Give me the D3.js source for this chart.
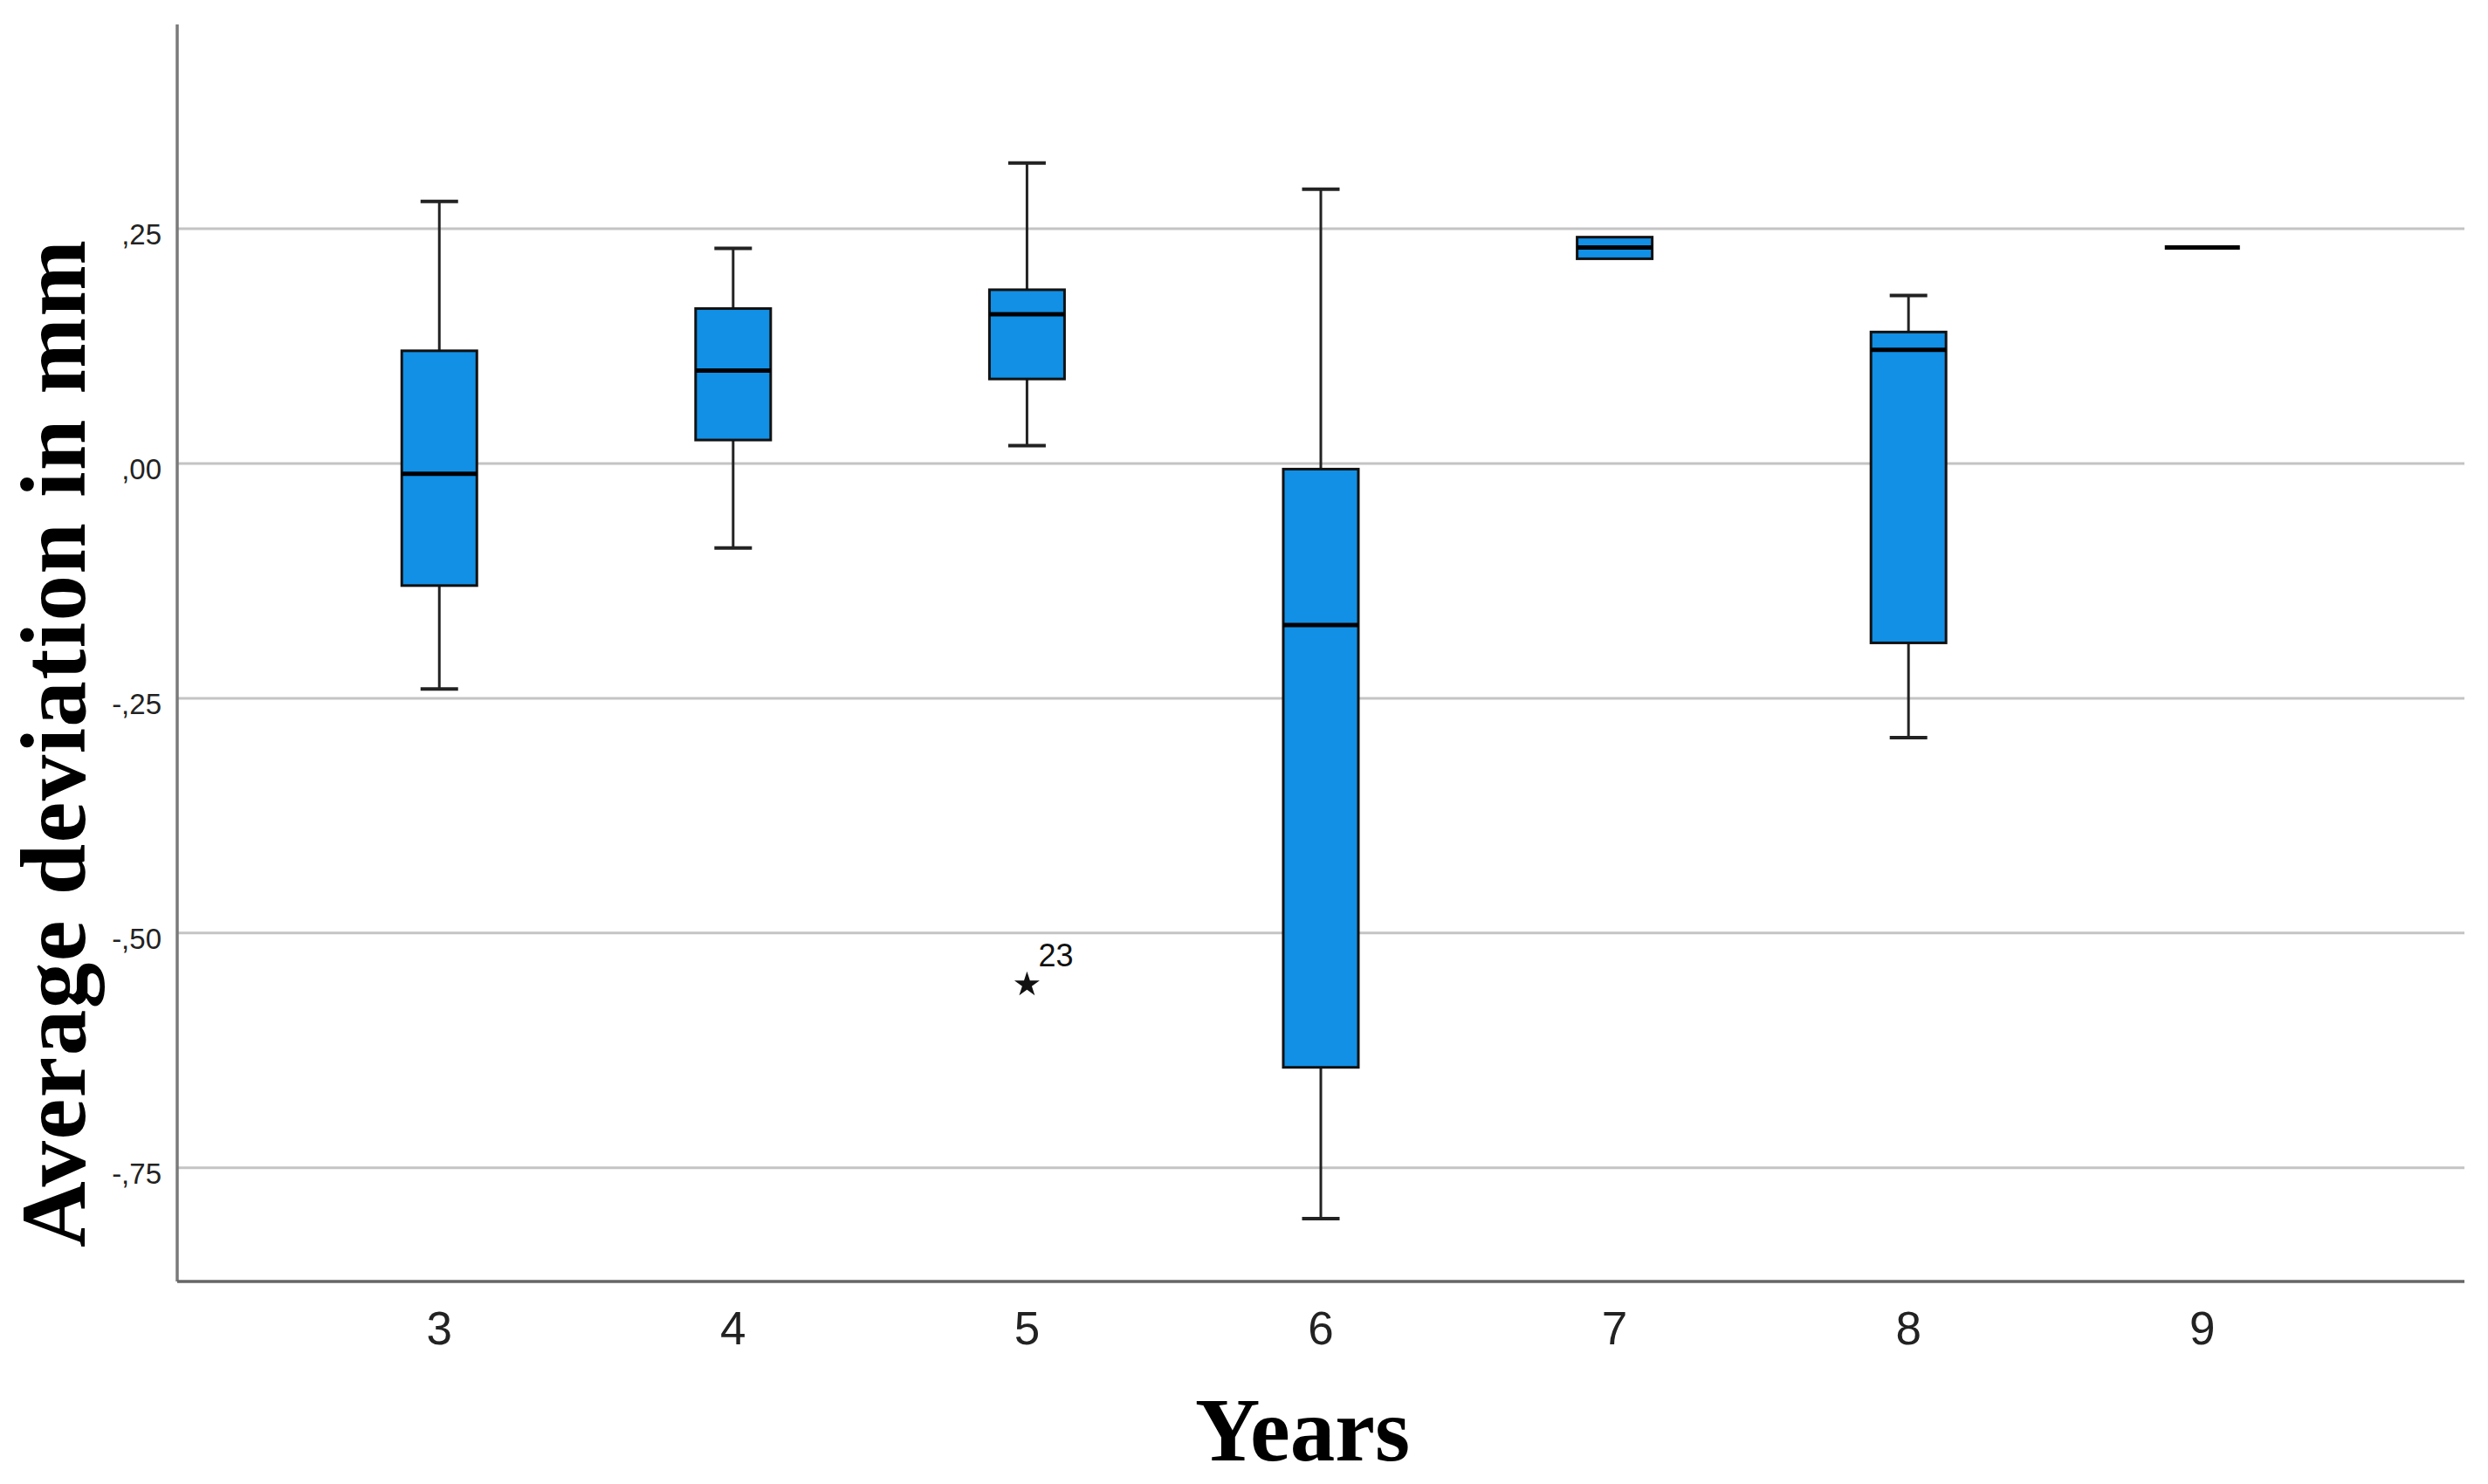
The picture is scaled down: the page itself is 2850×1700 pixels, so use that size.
<!DOCTYPE html>
<html>
<head>
<meta charset="utf-8">
<script src="https://cdn.jsdelivr.net/npm/d3@7"></script>
<style>
  body { margin: 0; background: #fff; }
</style>
</head>
<body>
<svg id="chart" width="2850" height="1700"></svg>
<script>
// values (mm)
var years    = ["3", "4", "5", "6", "7", "8", "9"];
var whiskLo  = [-0.240, -0.090, 0.019, -0.804, 0.218, -0.292, 0.230];
var q1       = [-0.130,  0.025, 0.090, -0.643, 0.218, -0.191, 0.230];
var median   = [-0.011,  0.099, 0.159, -0.172, 0.230,  0.121, 0.230];
var q3       = [ 0.120,  0.165, 0.185, -0.006, 0.241,  0.140, 0.230];
var whiskHi  = [ 0.279,  0.229, 0.320,  0.292, 0.241,  0.179, 0.230];

var outliers = [{year: "5", value: -0.553, label: "23"}];

var yTicks = [0.25, 0, -0.25, -0.5, -0.75];
var yTickLabels = [",25", ",00", "-,25", "-,50", "-,75"];

var boxes = years.map(function(y, i) {
  return {year: y, lo: whiskLo[i], q1: q1[i], med: median[i], q3: q3[i], hi: whiskHi[i]};
});

var svg = d3.select("#chart");

// plot frame (note: "top" is taken by window.top, so use other names)
var plotL = 203, plotR = 2823, plotT = 28, plotB = 1468;

var x = d3.scalePoint()
  .domain(years)
  .range([plotL, plotR])
  .padding(0.892);

var y = d3.scaleLinear()
  .domain([-0.871, 0.4675])
  .range([plotB, plotT]);

var boxW = 86, capW = 43;

// grid lines
svg.append("g")
  .selectAll("line")
  .data(yTicks)
  .enter().append("line")
  .attr("x1", plotL)
  .attr("x2", plotR)
  .attr("y1", function(d) { return y(d); })
  .attr("y2", function(d) { return y(d); })
  .attr("stroke", "#c4c4c4")
  .attr("stroke-width", 3);

// y tick labels
svg.append("g")
  .selectAll("text")
  .data(yTicks)
  .enter().append("text")
  .attr("x", 185)
  .attr("y", function(d) { return y(d) + 18; })
  .attr("text-anchor", "end")
  .attr("font-family", "Liberation Sans, Arial, sans-serif")
  .attr("font-size", 33)
  .attr("fill", "#222")
  .text(function(d, i) { return yTickLabels[i]; });

// x tick labels
svg.append("g")
  .selectAll("text")
  .data(years)
  .enter().append("text")
  .attr("x", function(d) { return x(d); })
  .attr("y", 1540)
  .attr("text-anchor", "middle")
  .attr("font-family", "Liberation Sans, Arial, sans-serif")
  .attr("font-size", 53)
  .attr("fill", "#222")
  .text(function(d) { return d; });

var g = svg.append("g")
  .selectAll("g")
  .data(boxes)
  .enter().append("g");

// whiskers (skip when they collapse into the box)
g.filter(function(d) { return d.hi > d.q3; })
  .append("line")
  .attr("x1", function(d) { return x(d.year); })
  .attr("x2", function(d) { return x(d.year); })
  .attr("y1", function(d) { return y(d.q3); })
  .attr("y2", function(d) { return y(d.hi); })
  .attr("stroke", "#222").attr("stroke-width", 3);

g.filter(function(d) { return d.hi > d.q3; })
  .append("line")
  .attr("x1", function(d) { return x(d.year) - capW / 2; })
  .attr("x2", function(d) { return x(d.year) + capW / 2; })
  .attr("y1", function(d) { return y(d.hi); })
  .attr("y2", function(d) { return y(d.hi); })
  .attr("stroke", "#222").attr("stroke-width", 4);

g.filter(function(d) { return d.lo < d.q1; })
  .append("line")
  .attr("x1", function(d) { return x(d.year); })
  .attr("x2", function(d) { return x(d.year); })
  .attr("y1", function(d) { return y(d.q1); })
  .attr("y2", function(d) { return y(d.lo); })
  .attr("stroke", "#222").attr("stroke-width", 3);

g.filter(function(d) { return d.lo < d.q1; })
  .append("line")
  .attr("x1", function(d) { return x(d.year) - capW / 2; })
  .attr("x2", function(d) { return x(d.year) + capW / 2; })
  .attr("y1", function(d) { return y(d.lo); })
  .attr("y2", function(d) { return y(d.lo); })
  .attr("stroke", "#222").attr("stroke-width", 4);

// boxes
g.append("rect")
  .attr("x", function(d) { return x(d.year) - boxW / 2; })
  .attr("width", boxW)
  .attr("y", function(d) { return y(d.q3); })
  .attr("height", function(d) { return y(d.q1) - y(d.q3); })
  .attr("fill", "#1190e6")
  .attr("stroke", "#111")
  .attr("stroke-width", 3);

// medians
g.append("line")
  .attr("x1", function(d) { return x(d.year) - boxW / 2; })
  .attr("x2", function(d) { return x(d.year) + boxW / 2; })
  .attr("y1", function(d) { return y(d.med); })
  .attr("y2", function(d) { return y(d.med); })
  .attr("stroke", "#000")
  .attr("stroke-width", 5);

// outliers (extreme values drawn as stars)
var star = d3.symbol().type(d3.symbolStar).size(260);
var o = svg.append("g")
  .selectAll("g")
  .data(outliers)
  .enter().append("g");

o.append("path")
  .attr("d", star)
  .attr("transform", function(d) { return "translate(" + x(d.year) + "," + (y(d.value) + 2) + ")"; })
  .attr("fill", "#111");

o.append("text")
  .attr("x", function(d) { return x(d.year) + 13; })
  .attr("y", function(d) { return y(d.value) - 19; })
  .attr("font-family", "Liberation Sans, Arial, sans-serif")
  .attr("font-size", 36)
  .attr("fill", "#111")
  .text(function(d) { return d.label; });

// axis lines
svg.append("line")
  .attr("x1", plotL).attr("x2", plotL)
  .attr("y1", plotT).attr("y2", plotB)
  .attr("stroke", "#7a7a7a").attr("stroke-width", 3.5);

svg.append("line")
  .attr("x1", plotL).attr("x2", plotR)
  .attr("y1", plotB).attr("y2", plotB)
  .attr("stroke", "#666").attr("stroke-width", 3.5);

// axis titles
svg.append("text")
  .attr("transform", "translate(97,852) rotate(-90)")
  .attr("text-anchor", "middle")
  .attr("font-family", "Liberation Serif, Times New Roman, serif")
  .attr("font-weight", "bold")
  .attr("font-size", 105)
  .attr("textLength", 1154)
  .attr("lengthAdjust", "spacing")
  .text("Average deviation in mm");

svg.append("text")
  .attr("x", 1492)
  .attr("y", 1673)
  .attr("text-anchor", "middle")
  .attr("font-family", "Liberation Serif, Times New Roman, serif")
  .attr("font-weight", "bold")
  .attr("font-size", 103)
  .text("Years");
</script>
</body>
</html>
